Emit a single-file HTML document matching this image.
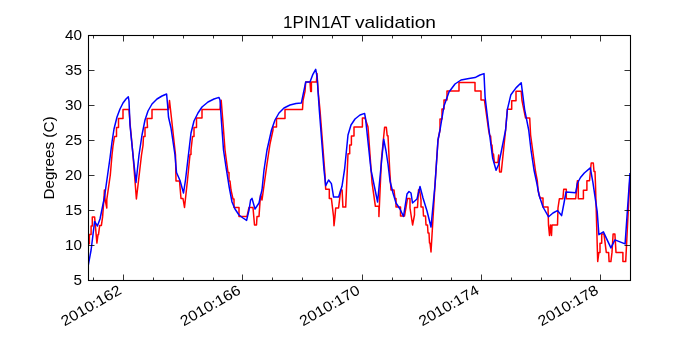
<!DOCTYPE html>
<html><head><meta charset="utf-8"><style>
html,body{margin:0;padding:0;background:#fff;}
svg{display:block;will-change:transform;}
text{font-family:"Liberation Sans",sans-serif;fill:#000;}
</style></head><body>
<svg width="700" height="350" viewBox="0 0 700 350">
<rect x="0" y="0" width="700" height="350" fill="#fff"/>
<defs><clipPath id="c"><rect x="88.5" y="35.5" width="542.0" height="245.0"/></clipPath></defs>
<g clip-path="url(#c)" fill="none" stroke-width="1.5" stroke-linejoin="round" stroke-linecap="butt">
<polyline stroke="#ff0000" points="88,243.7 89.4,243.7 89.4,234.6 91.1,234.6 91.1,226 92.3,226 92.3,216.9 94.6,216.9 96.9,243.1 98,234.6 98.5,234.6 99.7,225.4 101.4,225.4 102.6,216.9 104,198 104.4,190 105,199 106.8,208 106.8,199.5 110.3,175 112,155 113,146 114.5,136.5 116.5,136.5 116.5,127.5 118.5,127.5 118.5,118.5 123,118.5 123,109.5 129,109.5 130,123 133,155 136.4,199 141.5,155 143,145.5 143.5,136.5 145,136.5 145,127.5 147.5,127.5 147,118.5 152,118.5 152,109.5 168.5,109.5 169.5,100.5 172,123 175.5,155 176,181 179.5,181 181,198.5 183,198.5 184.5,207.5 187.5,180 190,154.5 191,154.5 191,150 192.5,136.5 194,136.5 194,127.5 196.5,127.5 196.5,118 202,118 202,109.5 220,109.5 221.2,100.2 223,123 225,150 228,172.5 229,172.5 229,181 230,181 231,190 233,199 234,199 234,207.5 239,207.5 239,216.5 247,216.5 249,207.5 253,207.5 254.5,225 256.5,225 257,216.5 259,216.5 260.5,195 262,200 267,164 270,144 273,130 273,127 276.5,127 276.5,118.5 285,118.5 285,109.5 302.5,109.5 303,100.5 305,91.4 305.7,82.1 310,82.1 310.7,91.4 311.4,91.4 311.4,82.1 316.4,82.1 317,73.6 318.2,92 320,110 325,175 325.7,189.3 329.3,189.3 329.3,198.6 331.4,198.6 333.6,217 334,225.7 335,216.4 335.7,207.9 338.6,207.9 340.7,190 342.1,190 342.9,207.1 345.7,207.1 348,153.7 349.7,153.7 349.7,145 351.4,145 351.4,136 354,136 354,127 362.4,127 362.4,118 365,118 368,127 372,182.3 375.4,206.3 378.9,206.3 378.9,216.6 381.4,160 384.6,127.2 386.3,127.2 387.2,135.7 388,135.7 389.7,170 391,190 394,190 395,198.5 396,198.5 396,207 400.5,207 400.5,216 404.5,216 407.5,198.5 410,198.5 410,208 412.6,225 414.5,215 414.5,207.5 417.5,207.5 418.5,190 419.5,189.5 421,200 421,207 423,207 423.5,216 425.5,216 426,225 427.5,225 428,233 429,233 429.5,243 430,243 431,252 435,185 438,140 440,130 440,119 442,119 442,109 444,109 444,100 447,100 447,91 459,91 459,82.4 475,82.4 475,91 481,91 481,100 484.4,100 488.6,130 489.8,136 490.6,136 491.3,145 492,145 492.7,154 493.5,154 494.4,162.6 497.9,162.6 498.7,154.9 499.6,172 501.3,172 505.6,130 507.4,109.3 511.7,109.3 511.7,100.7 516,100.7 516,91.3 521.2,91.3 522,100.7 525.5,117.9 529.7,117.9 530.6,135 535.6,172 537.3,180.6 538,190 540,198 543,198 543,207 548,207 548.5,225 549.5,235.5 550.5,225 551.5,235.5 552,225 557.5,225 558,208 559.4,198.7 562.9,198.7 563.7,189.3 566.3,189.3 566.3,198.7 575.7,198.7 577.4,180.7 578.3,180.7 578.3,198.7 583.4,198.7 583.4,190.2 586.9,190.2 586.9,180.7 589.5,180.7 591.2,163 593.3,163 594,171.5 595,171.5 595.5,185 597.7,261.6 598.9,252.4 600,252.4 600,243.3 601.7,243.3 601.7,234.1 604,234.1 606.3,252.4 608.6,252.4 609.1,261.6 610.9,261.6 612,252.4 613.1,234.1 614.9,234.1 616,252.4 622.9,252.4 622.9,261.6 625.7,261.6 630,176"/>
<polyline stroke="#0000ff" points="88.3,265 91.1,250 94.6,221.4 97.4,226 100,219 104.5,197 110,158 112,142 114,129 117,117 120,109 123,103 126,99 128.3,96.8 129,101 130,125 133,155 136,182.5 139,155 142,135 145,120 148,111 152,104 157,99 162,96 166.6,94 167.6,105 168.5,117 171,128 175,155 176.5,172.5 180,180.5 183.5,193 185.5,180 189,150 191,133 194,121 198,113 202,107 208,102 214,99 219,97.4 220,100 221,115 223.5,150 226,167 229,186 232,202 235,209 239,215 243,218 246.6,220.4 249,210 250.6,200 252,198.4 255,209 259,203 261,194 262,190 264,170 267,150 271.5,130 275,120 279,113 284,108 290,105 296,103.5 301.4,102.9 305.7,82.1 310,82.1 312.9,74.3 315.7,69.3 317.1,77 319.3,110 324,170 325.7,185.7 328.6,180 331.4,183.6 333.6,197.1 338.6,197.1 342,186.3 344.6,169.2 348,135 351,125 355,119 360,115 364.6,113.4 365.6,119 371,170 377.6,202 383.7,139.2 386,151 388,164 390,181 393,193 396,203 400,209 403.5,216.5 407,194 409,191.5 411,193 412.5,203 417,199 420,186.5 423,198 427,211 431,227 435,185 438,140 440,130 444,106 449,92 455,84 461,80 469,78.4 475,77.6 480,75 484,73.6 485.1,97.3 489,130 492.7,158.3 496.1,170.3 498.7,164.3 505.6,130 507.4,109.3 510.9,94.7 516,87.9 521.2,82.7 524.6,109.3 528.7,130 531,150 534,170 537,184 539,195 543,207 548.6,216.8 553,213 557.4,210.6 561.6,215.6 564,203 566,192 575.7,192.7 577.5,183 580.5,177.5 584.3,173 590.3,167.9 592.9,182.4 597.2,211.6 598.9,234.7 603.4,231.9 610.9,247.9 614.9,239.9 625.1,243.9 630,173"/>
</g>
<g stroke="#000" stroke-width="0.8">
<line x1="93.50" y1="280.5" x2="93.50" y2="277.5"/>
<line x1="93.50" y1="35.5" x2="93.50" y2="38.5"/>
<line x1="123.50" y1="280.5" x2="123.50" y2="274.5"/>
<line x1="123.50" y1="35.5" x2="123.50" y2="41.5"/>
<line x1="153.50" y1="280.5" x2="153.50" y2="277.5"/>
<line x1="153.50" y1="35.5" x2="153.50" y2="38.5"/>
<line x1="183.50" y1="280.5" x2="183.50" y2="277.5"/>
<line x1="183.50" y1="35.5" x2="183.50" y2="38.5"/>
<line x1="213.50" y1="280.5" x2="213.50" y2="277.5"/>
<line x1="213.50" y1="35.5" x2="213.50" y2="38.5"/>
<line x1="242.50" y1="280.5" x2="242.50" y2="274.5"/>
<line x1="242.50" y1="35.5" x2="242.50" y2="41.5"/>
<line x1="272.50" y1="280.5" x2="272.50" y2="277.5"/>
<line x1="272.50" y1="35.5" x2="272.50" y2="38.5"/>
<line x1="302.50" y1="280.5" x2="302.50" y2="277.5"/>
<line x1="302.50" y1="35.5" x2="302.50" y2="38.5"/>
<line x1="332.50" y1="280.5" x2="332.50" y2="277.5"/>
<line x1="332.50" y1="35.5" x2="332.50" y2="38.5"/>
<line x1="362.50" y1="280.5" x2="362.50" y2="274.5"/>
<line x1="362.50" y1="35.5" x2="362.50" y2="41.5"/>
<line x1="392.50" y1="280.5" x2="392.50" y2="277.5"/>
<line x1="392.50" y1="35.5" x2="392.50" y2="38.5"/>
<line x1="421.50" y1="280.5" x2="421.50" y2="277.5"/>
<line x1="421.50" y1="35.5" x2="421.50" y2="38.5"/>
<line x1="451.50" y1="280.5" x2="451.50" y2="277.5"/>
<line x1="451.50" y1="35.5" x2="451.50" y2="38.5"/>
<line x1="481.50" y1="280.5" x2="481.50" y2="274.5"/>
<line x1="481.50" y1="35.5" x2="481.50" y2="41.5"/>
<line x1="511.50" y1="280.5" x2="511.50" y2="277.5"/>
<line x1="511.50" y1="35.5" x2="511.50" y2="38.5"/>
<line x1="541.50" y1="280.5" x2="541.50" y2="277.5"/>
<line x1="541.50" y1="35.5" x2="541.50" y2="38.5"/>
<line x1="570.50" y1="280.5" x2="570.50" y2="277.5"/>
<line x1="570.50" y1="35.5" x2="570.50" y2="38.5"/>
<line x1="600.50" y1="280.5" x2="600.50" y2="274.5"/>
<line x1="600.50" y1="35.5" x2="600.50" y2="41.5"/>
<line x1="630.50" y1="280.5" x2="630.50" y2="277.5"/>
<line x1="630.50" y1="35.5" x2="630.50" y2="38.5"/>
<line x1="88.5" y1="280.5" x2="94.5" y2="280.5"/>
<line x1="630.5" y1="280.5" x2="624.5" y2="280.5"/>
<line x1="88.5" y1="245.5" x2="94.5" y2="245.5"/>
<line x1="630.5" y1="245.5" x2="624.5" y2="245.5"/>
<line x1="88.5" y1="210.5" x2="94.5" y2="210.5"/>
<line x1="630.5" y1="210.5" x2="624.5" y2="210.5"/>
<line x1="88.5" y1="175.5" x2="94.5" y2="175.5"/>
<line x1="630.5" y1="175.5" x2="624.5" y2="175.5"/>
<line x1="88.5" y1="140.5" x2="94.5" y2="140.5"/>
<line x1="630.5" y1="140.5" x2="624.5" y2="140.5"/>
<line x1="88.5" y1="105.5" x2="94.5" y2="105.5"/>
<line x1="630.5" y1="105.5" x2="624.5" y2="105.5"/>
<line x1="88.5" y1="70.5" x2="94.5" y2="70.5"/>
<line x1="630.5" y1="70.5" x2="624.5" y2="70.5"/>
<line x1="88.5" y1="35.5" x2="94.5" y2="35.5"/>
<line x1="630.5" y1="35.5" x2="624.5" y2="35.5"/>
</g>
<rect x="88.5" y="35.5" width="542.0" height="245.0" fill="none" stroke="#000" stroke-width="1.1"/>
<g font-size="14.5">
<text x="82" y="285.1" text-anchor="end" textLength="8.5" lengthAdjust="spacingAndGlyphs">5</text>
<text x="82" y="250.1" text-anchor="end" textLength="17" lengthAdjust="spacingAndGlyphs">10</text>
<text x="82" y="215.1" text-anchor="end" textLength="17" lengthAdjust="spacingAndGlyphs">15</text>
<text x="82" y="180.1" text-anchor="end" textLength="17" lengthAdjust="spacingAndGlyphs">20</text>
<text x="82" y="145.1" text-anchor="end" textLength="17" lengthAdjust="spacingAndGlyphs">25</text>
<text x="82" y="110.1" text-anchor="end" textLength="17" lengthAdjust="spacingAndGlyphs">30</text>
<text x="82" y="75.1" text-anchor="end" textLength="17" lengthAdjust="spacingAndGlyphs">35</text>
<text x="82" y="40.1" text-anchor="end" textLength="17" lengthAdjust="spacingAndGlyphs">40</text>
</g>
<g font-size="14.5">
<text transform="translate(122.5,293) rotate(-30)" x="0" y="0" text-anchor="end" textLength="67" lengthAdjust="spacingAndGlyphs">2010:162</text>
<text transform="translate(241.8,293) rotate(-30)" x="0" y="0" text-anchor="end" textLength="67" lengthAdjust="spacingAndGlyphs">2010:166</text>
<text transform="translate(361.0,293) rotate(-30)" x="0" y="0" text-anchor="end" textLength="67" lengthAdjust="spacingAndGlyphs">2010:170</text>
<text transform="translate(480.2,293) rotate(-30)" x="0" y="0" text-anchor="end" textLength="67" lengthAdjust="spacingAndGlyphs">2010:174</text>
<text transform="translate(599.5,293) rotate(-30)" x="0" y="0" text-anchor="end" textLength="67" lengthAdjust="spacingAndGlyphs">2010:178</text>
</g>
<text x="283" y="28" font-size="17" textLength="68" lengthAdjust="spacingAndGlyphs">1PIN1AT</text><text x="355" y="28" font-size="17" textLength="81" lengthAdjust="spacingAndGlyphs">validation</text>
<text transform="translate(54.3,199.5) rotate(-90)" font-size="14" textLength="83" lengthAdjust="spacingAndGlyphs">Degrees (C)</text>
</svg>
</body></html>
